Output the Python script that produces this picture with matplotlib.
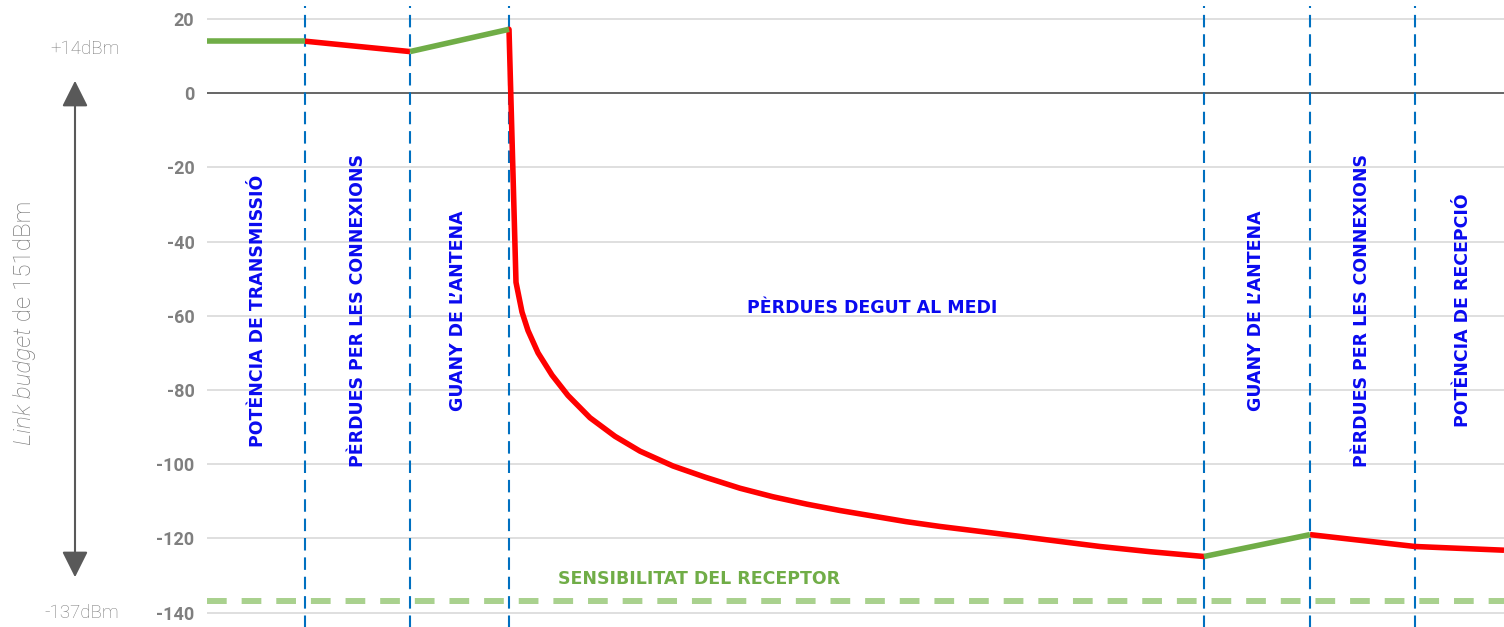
import matplotlib
matplotlib.use("Agg")
import matplotlib.pyplot as plt

# horizontal position of each point (arbitrary distance units along the link)
section_bounds = [98, 203, 302, 997, 1103, 1208]
x_end = 1297

# link budget stages (dBm)
tx_x = [0, 98]
tx_y = [14, 14]
conn1_x = [98, 203]
conn1_y = [14, 11.2]
ant1_x = [203, 302]
ant1_y = [11.2, 17.2]
medium_x = [302, 309, 315, 321, 331, 345, 361, 383, 408, 433, 466, 498, 533,
            566, 600, 633, 666, 699, 733, 793, 843, 893, 943, 997]
medium_y = [17.2, -51, -59, -64, -70, -76, -81.5, -87.5, -92.5, -96.5, -100.5, -103.5, -106.5,
            -108.8, -110.8, -112.5, -114, -115.5, -116.8, -118.8, -120.5, -122.2, -123.6, -124.9]
ant2_x = [997, 1103]
ant2_y = [-124.9, -119]
conn2_x = [1103, 1208]
conn2_y = [-119, -122.2]
rx_x = [1208, 1297]
rx_y = [-122.2, -123.2]

sensitivity = -137
yticks = [20, 0, -20, -40, -60, -80, -100, -120, -140]

section_labels = ["POTÈNCIA DE TRANSMISSIÓ", "PÈRDUES PER LES CONNEXIONS", "GUANY DE L’ANTENA",
                  "GUANY DE L’ANTENA", "PÈRDUES PER LES CONNEXIONS", "POTÈNCIA DE RECEPCIÓ"]
section_label_x = [51, 151, 251, 1049, 1155, 1256]

RED = "#ff0000"
GREEN = "#70ad47"
BLUE_TXT = "#0a0af0"
GRAY = "#7f7f7f"
NOTE_GRAY = "#7a7a7a"

W, H = 1504, 627
fig = plt.figure(figsize=(W / 100, H / 100), dpi=100)
ax = fig.add_axes([207 / W, 0, 1297 / W, 1])
ax.set_xlim(0, x_end)
ax.set_ylim(-143.9, 25.1)

for s in ax.spines.values():
    s.set_visible(False)

# grid
for t in yticks:
    if t == 0:
        ax.axhline(t, color="#595959", lw=1.3, zorder=1)
    else:
        ax.axhline(t, color="#d9d9d9", lw=1.2, zorder=1)

ax.set_yticks(yticks)
ax.set_yticklabels([str(t) for t in yticks], fontsize=13, fontweight="bold",
                   color=GRAY, fontfamily="Roboto")
ax.tick_params(axis="y", length=0, pad=9)
ax.set_xticks([])

# section separators
for b in section_bounds:
    ax.plot([b, b], [-150, 23.5], color="#0070c0", lw=1.5, dashes=(6, 3.3), zorder=2)

# sensitivity line
ax.plot([0, x_end], [sensitivity, sensitivity], color="#a9d18e", lw=4.3,
        dashes=(3.3, 2.5), zorder=2)
ax.text(492, -131, "SENSIBILITAT DEL RECEPTOR", color=GREEN, fontsize=12.5,
        fontweight="bold", fontfamily="DejaVu Sans", ha="center", va="center")

# budget curve
ax.plot(conn1_x, conn1_y, color=RED, lw=4, solid_capstyle="butt", zorder=3)
ax.plot(medium_x, medium_y, color=RED, lw=4, solid_capstyle="round",
        solid_joinstyle="round", zorder=3)
ax.plot(conn2_x + rx_x[1:], conn2_y + rx_y[1:], color=RED, lw=4, solid_capstyle="butt", zorder=3)
for gx, gy in [(tx_x, tx_y), (ant1_x, ant1_y), (ant2_x, ant2_y)]:
    ax.plot(gx, gy, color=GREEN, lw=4, solid_capstyle="butt", zorder=4)

# section labels
for lx, lab in zip(section_label_x, section_labels):
    ax.text(lx, -58.6, lab, rotation=90, color=BLUE_TXT, fontsize=12.5, fontweight="bold",
            fontfamily="DejaVu Sans", ha="center", va="center")
ax.text(665, -58, "PÈRDUES DEGUT AL MEDI", color=BLUE_TXT, fontsize=12.5, fontweight="bold",
        fontfamily="DejaVu Sans", ha="center", va="center")

# link budget annotation on the left
fig.text(85 / W, 1 - 49 / H, "+14dBm", color=NOTE_GRAY, fontsize=13.5, fontfamily="Roboto",
         fontweight="light", ha="center", va="center")
fig.text(82 / W, 1 - 613 / H, "-137dBm", color=NOTE_GRAY, fontsize=13.5, fontfamily="Roboto",
         fontweight="light", ha="center", va="center")
fig.patches.append(matplotlib.patches.FancyArrowPatch(
    (75 / W, 1 - 78 / H), (75 / W, 1 - 580 / H), transform=fig.transFigure,
    arrowstyle="<|-|>,head_length=8,head_width=4", mutation_scale=2,
    color="#595959", lw=1.5))
fig.text(25 / W, 1 - 327 / H, "Link budget", rotation=90, color=NOTE_GRAY, fontsize=17.5,
         fontfamily="Roboto", fontweight="light", fontstyle="italic", ha="center", va="top")
fig.text(25 / W, 1 - 327 / H, " de 151dBm", rotation=90, color=NOTE_GRAY, fontsize=17.5,
         fontfamily="Roboto", fontweight="light", ha="center", va="bottom")

fig.savefig("out.png", dpi=100)
